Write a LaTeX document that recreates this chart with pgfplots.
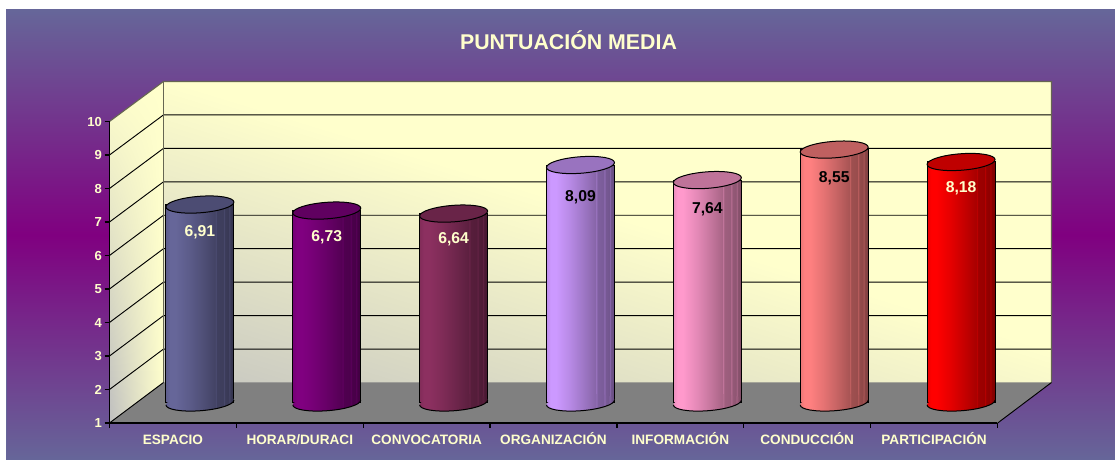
\documentclass[border=0pt]{standalone}
\usepackage{fontspec}
\setmainfont{Liberation Sans}
\usepackage{pgfplots}
\pgfplotsset{compat=1.18}
\usetikzlibrary{shadings}

\definecolor{cream}{HTML}{FFFFCC}
\definecolor{slate}{HTML}{666699}
\definecolor{violeta}{HTML}{800080}
\definecolor{granate}{HTML}{8C3060}
\definecolor{lila}{HTML}{CC99FF}
\definecolor{rosa}{HTML}{FF99CC}
\definecolor{salmon}{HTML}{FF8080}
\definecolor{rojo}{HTML}{FF0000}

\pgfdeclareverticalshading{panel}{100bp}{color(0bp)=(slate); color(25bp)=(slate); color(50bp)=(violeta); color(75bp)=(slate); color(100bp)=(slate)}
\pgfdeclareverticalshading{wall}{100bp}{color(0bp)=(gray!50); color(14bp)=(gray!50); color(52bp)=(cream); color(100bp)=(cream)}

% one horizontal shading and two end marks for each cylinder
% (a path only shows the stops from 25bp to 75bp)
\newcommand{\defcyl}[2]{%
  \pgfdeclarehorizontalshading{body#1}{100bp}{color(0bp)=(#2!92!black); color(25bp)=(#2!92!black); color(28bp)=(#2); color(32bp)=(#2); color(42bp)=(#2!90!black); color(55bp)=(#2!74!black); color(61bp)=(#2!66!black); color(61.5bp)=(#2!76!black); color(62.5bp)=(#2!62!black); color(67bp)=(#2!60!black); color(67.5bp)=(#2!72!black); color(68.5bp)=(#2!58!black); color(71bp)=(#2!56!black); color(71.5bp)=(#2!68!black); color(72.5bp)=(#2!54!black); color(75bp)=(#2!50!black); color(100bp)=(#2!50!black)}%
  \pgfdeclareplotmark{top#1}{%
    \pgfpathellipse{\pgfpointorigin}{\pgfqpoint{25.5pt}{1.8pt}}{\pgfqpoint{0pt}{6.2pt}}%
    \pgfsetfillcolor{#2!75!black}\pgfusepathqfillstroke}%
  \pgfdeclareplotmark{base#1}{%
    \pgfpathellipse{\pgfpointorigin}{\pgfqpoint{25.5pt}{1.8pt}}{\pgfqpoint{0pt}{6.2pt}}%
    \pgfshadepath{body#1}{0}\pgfusepath{discard}%
    \pgfpathmoveto{\pgfqpoint{-25.5pt}{-1.8pt}}%
    \pgfpathcurveto{\pgfqpoint{-25.5pt}{-5.22pt}}{\pgfqpoint{-14.08pt}{-7.19pt}}{\pgfqpoint{0pt}{-6.2pt}}%
    \pgfpathcurveto{\pgfqpoint{14.08pt}{-5.21pt}}{\pgfqpoint{25.5pt}{-1.62pt}}{\pgfqpoint{25.5pt}{1.8pt}}%
    \pgfusepathqstroke}%
}
\defcyl{a}{slate}
\defcyl{b}{violeta}
\defcyl{c}{granate}
\defcyl{d}{lila}
\defcyl{e}{rosa}
\defcyl{f}{salmon}
\defcyl{g}{rojo}

% #1 cylinder, #2 x, #3 value, #4 label colour, #5 label drop in pt
\newcommand{\cyl}[5]{%
  \addplot[only marks, mark=base#1, mark options={draw=black, line width=.75pt}] coordinates {(#2,1)};
  \addplot[ybar, bar width=51pt, bar shift=0pt, shading=body#1, draw=black, line width=.75pt] coordinates {(#2,#3)};
  \addplot[only marks, mark=top#1, mark options={draw=black, line width=.75pt},
    point meta=y, nodes near coords,
    nodes near coords style={anchor=center, yshift=-#5pt, text=#4, font=\fontsize{11.8}{12}\selectfont\bfseries,
      /pgf/number format/.cd, fixed, fixed zerofill, precision=2, use comma, assume math mode=true}]
    coordinates {(#2,#3)};
}

\begin{document}
\begin{tikzpicture}[x=0.75pt, y=0.75pt]
\path[use as bounding box, fill=white] (0,0) rectangle (1115,460);
\begin{scope}[yshift=345pt, y=-0.75pt]
\fill[shading=panel] (6,10) rectangle (1115,460);
\draw[slate, line width=.8pt] (6.5,460) -- (6.5,10.5) -- (1115,10.5);

% walls and floor
\fill[shading=wall, shading angle=-17] (163.5,81.5) rectangle (1051.5,382.5);
\fill[lower left=gray!50, upper left=cream, upper right=cream, lower right=cream] (109.5,121.5) -- (163.5,81.5) -- (163.5,382.5) -- (109.5,423) -- cycle;
\fill[gray] (109.5,423) -- (163.5,382.5) -- (1051.5,382.5) -- (997.7,423) -- cycle;
\foreach \k in {1,...,8} {
  \draw[black, line width=.7pt] (109.5,{423-33.5*\k}) -- (163.5,{382.5-33.45*\k}) -- (1051.5,{382.5-33.45*\k});
}
\draw[black!60!cream, line width=.8pt] (109.5,121.5) -- (163.5,81.5) -- (1051.5,81.5) -- (1051.5,382.5);
\draw[black!60!cream, line width=.8pt] (163.5,81.5) -- (163.5,382.5);
\draw[black, line width=.7pt] (109.5,423) -- (163.5,382.5);
\draw[black, line width=.7pt] (997.7,423) -- (1051.5,382.5);

\node[text=cream, font=\fontsize{16}{18}\selectfont\bfseries] at (568.5,40.5) {PUNTUACIÓN MEDIA};
\end{scope}

% front plane: axis lines, ticks and labels
\begin{axis}[
    at={(82.125pt,27.75pt)}, anchor=south west,
    scale only axis, width=666pt, height=226.1pt,
    xmin=0, xmax=7, ymin=1, ymax=10,
    axis x line*=bottom, axis y line*=left,
    axis line style={-, black, line width=.9pt},
    tick style={black, line width=.9pt},
    major tick length=3.75pt, tick align=outside,
    xtick={0,...,7}, ytick={1,...,10},
    x tick label as interval,
    xticklabels={ESPACIO,HORAR/DURACI,CONVOCATORIA,ORGANIZACIÓN,INFORMACIÓN,CONDUCCIÓN,PARTICIPACIÓN},
    xticklabel style={text=cream, font=\fontsize{10.2}{11}\selectfont\bfseries, text height=9pt, text depth=0pt, yshift=0pt},
    yticklabel style={text=cream, font=\fontsize{9.8}{11}\selectfont\bfseries, xshift=1.5pt, /pgf/number format/assume math mode=true},
]
\end{axis}

% middle of the depth: the cylinders
\begin{axis}[
    at={(102.375pt,43.125pt)}, anchor=south west,
    scale only axis, width=666pt, height=226.1pt,
    xmin=0, xmax=7, ymin=1, ymax=10,
    axis lines=none, clip=false,
]
\cyl{a}{0.5}{6.91}{cream}{20.5}
\cyl{b}{1.5}{6.73}{cream}{20}
\cyl{c}{2.5}{6.64}{cream}{19}
\cyl{d}{3.5}{8.09}{black}{24.5}
\cyl{e}{4.5}{7.64}{black}{21.5}
\cyl{f}{5.5}{8.55}{black}{21.5}
\cyl{g}{6.5}{8.18}{cream}{20}
\end{axis}
\end{tikzpicture}
\end{document}
